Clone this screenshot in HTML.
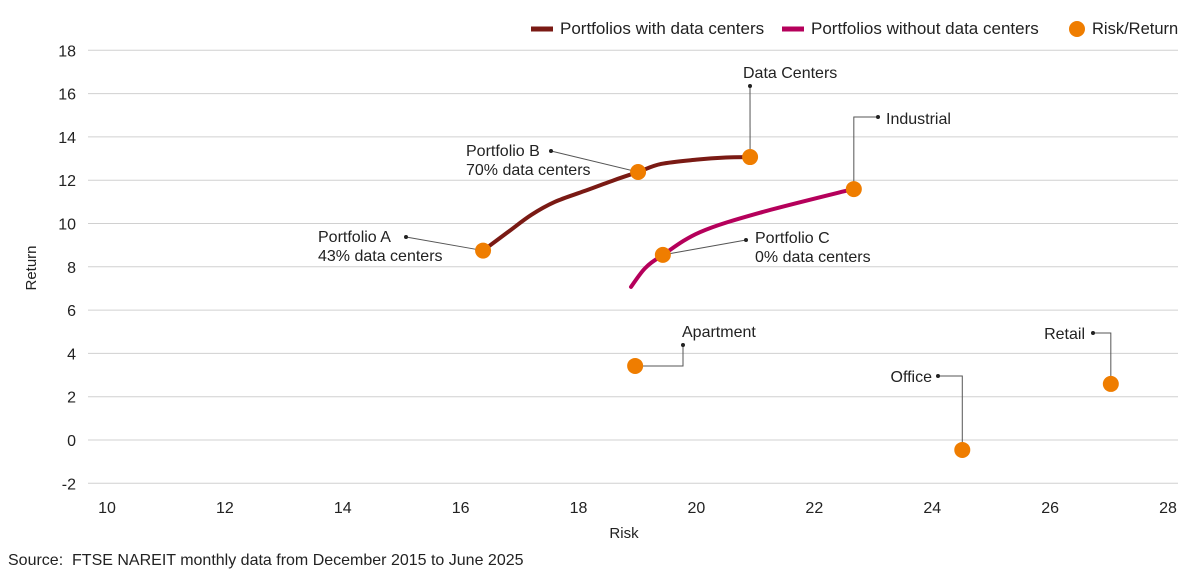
<!DOCTYPE html>
<html><head><meta charset="utf-8"><style>
body{margin:0;background:#fff;font-family:"Liberation Sans",sans-serif;}
svg text{font-family:"Liberation Sans",sans-serif;fill:#222;}
</style></head><body>
<svg width="1200" height="581" id="c">
<g id="grid"></g><g id="axes"></g><g id="lines"></g><g id="ann"></g><g id="pts"></g>
<g>
<line x1="531" y1="29" x2="553" y2="29" stroke="#7a1a14" stroke-width="5"/>
<text x="560" y="34" font-size="17">Portfolios with data centers</text>
<line x1="782" y1="29" x2="804" y2="29" stroke="#b5005b" stroke-width="5"/>
<text x="811" y="34" font-size="17">Portfolios without data centers</text>
<circle cx="1077" cy="29" r="8" fill="#ef7d00"/>
<text x="1092" y="34" font-size="16.5">Risk/Return</text>
</g>
<text x="36" y="268" font-size="15" transform="rotate(-90 36 268)" text-anchor="middle">Return</text>
<text x="624" y="538" font-size="15" text-anchor="middle">Risk</text>
<text x="8" y="565" font-size="16" xml:space="preserve">Source:  FTSE NAREIT monthly data from December 2015 to June 2025</text>
</svg>
<script>
const xTicks=[10,12,14,16,18,20,22,24,26,28];
const yTicks=[-2,0,2,4,6,8,10,12,14,16,18];
const withDcX=[16.38,16.8,17.2,17.6,18.1,18.6,19.01,19.4,20.0,20.5,20.91];
const withDcY=[8.75,9.6,10.4,11.0,11.5,12.0,12.38,12.75,12.95,13.05,13.07];
const withoutDcX=[18.89,19.13,19.43,20.06,21.08,22.67];
const withoutDcY=[7.07,7.94,8.55,9.6,10.5,11.6];
const pointNames=["Portfolio A","Portfolio B","Data Centers","Industrial","Portfolio C","Apartment","Office","Retail"];
const pointRisk=[16.38,19.01,20.91,22.67,19.43,18.96,24.51,27.03];
const pointReturn=[8.75,12.38,13.07,11.59,8.55,3.42,-0.46,2.59];
const X=v=>107+(v-10)*(1061/18);
const Y=v=>440-v*21.65;
const NS="http://www.w3.org/2000/svg";
function mk(p,t,a){const e=document.createElementNS(NS,t);for(const k in a)e.setAttribute(k,a[k]);document.getElementById(p).appendChild(e);return e;}
yTicks.forEach(t=>{
 const l=mk('grid','line',{x1:88,x2:1178,y1:Y(t),y2:Y(t),stroke:'#d0d0d0','stroke-width':1});
 
 
 const tx=mk('axes','text',{x:76,y:Y(t)+6,'font-size':16,'text-anchor':'end'});tx.textContent=t;
 
 
});
xTicks.forEach(t=>{
 const tx=mk('axes','text',{x:X(t),y:513,'font-size':16,'text-anchor':'middle'});tx.textContent=t;
 
 
});
function path(xs,ys){
 const p=xs.map((x,i)=>[X(x),Y(ys[i])]);
 let d='M'+p[0][0]+','+p[0][1];
 for(let i=0;i<p.length-1;i++){
  const p0=p[Math.max(0,i-1)],p1=p[i],p2=p[i+1],p3=p[Math.min(p.length-1,i+2)];
  const c1=[p1[0]+(p2[0]-p0[0])/6,p1[1]+(p2[1]-p0[1])/6];
  const c2=[p2[0]-(p3[0]-p1[0])/6,p2[1]-(p3[1]-p1[1])/6];
  d+=` C${c1[0]},${c1[1]} ${c2[0]},${c2[1]} ${p2[0]},${p2[1]}`;
 }
 return d;
}
const l1=mk('lines','path',{d:path(withDcX,withDcY),fill:'none',stroke:'#7a1a14','stroke-width':4,'stroke-linecap':'round'});


const l2=mk('lines','path',{d:path(withoutDcX,withoutDcY),fill:'none',stroke:'#b5005b','stroke-width':4,'stroke-linecap':'round'});


const ann=[
 [406,237,'d',["Portfolio A","43% data centers"],318,242,'start'],
 [551,151,'d',["Portfolio B","70% data centers"],466,156,'start'],
 [750,86,'v',["Data Centers"],743,78,'start'],
 [878,117,'hv',["Industrial"],886,124,'start'],
 [746,240,'d',["Portfolio C","0% data centers"],755,243,'start'],
 [683,345,'vh',["Apartment"],682,337,'start'],
 [938,376,'hv',["Office"],932,382,'end'],
 [1093,333,'hv',["Retail"],1085,339,'end']
];
ann.forEach((a,i)=>{
 const px=X(pointRisk[i]),py=Y(pointReturn[i]);
 let d;
 if(a[2]==='d'||a[2]==='v')d=`M${a[0]},${a[1]} L${px},${py}`;
 else if(a[2]==='hv')d=`M${a[0]},${a[1]} L${px},${a[1]} L${px},${py}`;
 else d=`M${a[0]},${a[1]} L${a[0]},${py} L${px},${py}`;
 const p=mk('ann','path',{d:d,fill:'none',stroke:'#555','stroke-width':1});
 
 
 const c=mk('ann','circle',{cx:a[0],cy:a[1],r:2,fill:'#222'});
 
 
 a[3].forEach((s,j)=>{
  const t=mk('ann','text',{x:a[4],y:a[5]+j*19,'font-size':16,'text-anchor':a[6]});t.textContent=s;
  
  
 });
 const pt=mk('pts','circle',{cx:px,cy:py,r:8,fill:'#ef7d00'});
 
 
});
</script>
</body></html>
